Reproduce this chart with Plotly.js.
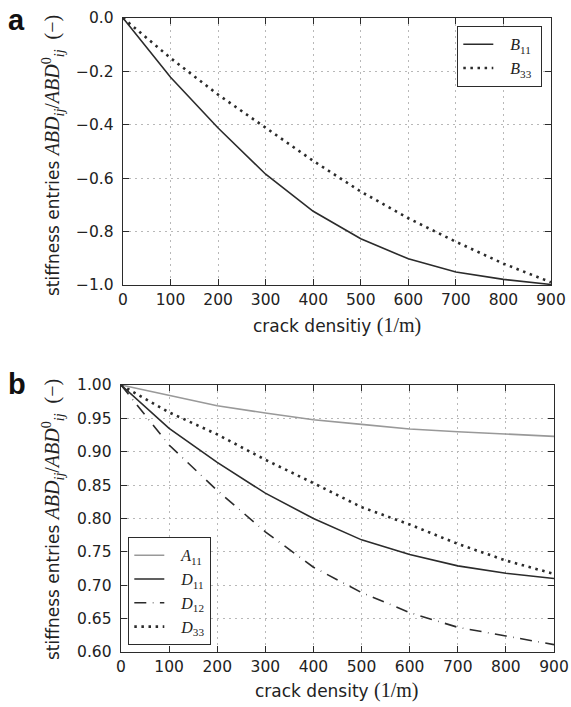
<!DOCTYPE html>
<html>
<head>
<meta charset="utf-8">
<script src="https://cdn.plot.ly/plotly-3.0.1.min.js"></script>
<style>html,body{margin:0;padding:0;background:#fff}#chart{width:571px;height:707px}</style>
</head>
<body>
<div id="chart"></div>
<script>
// ---- data ----
var crackDensity = [0, 100, 200, 300, 400, 500, 600, 700, 800, 900];
var B11 = [0, -0.222, -0.412, -0.585, -0.724, -0.827, -0.902, -0.951, -0.979, -0.998];
var B33 = [0, -0.150, -0.287, -0.410, -0.535, -0.650, -0.750, -0.838, -0.920, -0.990];
var A11 = [1, 0.984, 0.969, 0.958, 0.948, 0.941, 0.934, 0.930, 0.926, 0.923];
var D11 = [1, 0.935, 0.884, 0.838, 0.800, 0.768, 0.746, 0.729, 0.718, 0.710];
var D12 = [1, 0.910, 0.842, 0.780, 0.727, 0.689, 0.659, 0.637, 0.624, 0.611];
var D33 = [1, 0.959, 0.926, 0.888, 0.853, 0.817, 0.791, 0.762, 0.737, 0.717];
var xTicks = [0, 100, 200, 300, 400, 500, 600, 700, 800, 900];
var yTicksA = [0.0, -0.2, -0.4, -0.6, -0.8, -1.0];
var yTicksB = [1.00, 0.95, 0.90, 0.85, 0.80, 0.75, 0.70, 0.65, 0.60];

var W = 571, H = 707;
var dark = '#2b2b2b';
var serif = 'Liberation Serif';
function px(x){return x/W;}
function py(y){return 1 - y/H;}
var pad = '\u00a0\u00a0\u00a0';
var tail = '\u00a0';

var traces = [
  {x: crackDensity, y: B11, xaxis:'x', yaxis:'y', mode:'lines', name:pad + '<i>B</i><sub>11</sub>' + tail,
   line:{color:dark, width:1.6}, legend:'legend'},
  {x: crackDensity, y: B33, xaxis:'x', yaxis:'y', mode:'lines', name:pad + '<i>B</i><sub>33</sub>' + tail,
   line:{color:dark, width:2.6, dash:'2.5px,4.6px'}, legend:'legend'},
  {x: crackDensity, y: A11, xaxis:'x2', yaxis:'y2', mode:'lines', name:pad + '<i>A</i><sub>11</sub>',
   line:{color:'#999999', width:1.6}, legend:'legend2'},
  {x: crackDensity, y: D11, xaxis:'x2', yaxis:'y2', mode:'lines', name:pad + '<i>D</i><sub>11</sub>',
   line:{color:dark, width:1.6}, legend:'legend2'},
  {x: crackDensity, y: D12, xaxis:'x2', yaxis:'y2', mode:'lines', name:pad + '<i>D</i><sub>12</sub>',
   line:{color:dark, width:1.6, dash:'12px,6.5px,0.6px,6.5px'}, legend:'legend2'},
  {x: crackDensity, y: D33, xaxis:'x2', yaxis:'y2', mode:'lines', name:pad + '<i>D</i><sub>33</sub>',
   line:{color:dark, width:2.6, dash:'2.5px,4.6px'}, legend:'legend2'}
];

var tickFont = {family:'DejaVu Sans', size:15.5, color:'#222'};
function xAxis(domain, anchor){
  return {domain:domain, anchor:anchor, range:[0,900], tickvals:xTicks, ticktext:xTicks.map(String),
    ticks:'inside', ticklen:6, tickcolor:dark, tickwidth:1.2, mirror:'ticks',
    showline:true, linecolor:dark, linewidth:1.3, showgrid:true, gridcolor:'#b8b8b8', gridwidth:1,
    griddash:'2px,4px', zeroline:false, tickfont:tickFont, automargin:false, fixedrange:true};
}
function yAxis(domain, anchor, range, vals, fmt){
  return {domain:domain, anchor:anchor, range:range, tickvals:vals, ticktext:vals.map(function(v){return v.toFixed(fmt).replace('-', '\u2212');}),
    ticks:'inside', ticklen:6, tickcolor:dark, tickwidth:1.2, mirror:'ticks',
    showline:true, linecolor:dark, linewidth:1.3, showgrid:true, gridcolor:'#b8b8b8', gridwidth:1,
    griddash:'2px,4px', zeroline:false, tickfont:tickFont, automargin:false, fixedrange:true,
    ticklabelstandoff:5};
}

var mathY = "<span style=\"font-family:'Liberation Serif';font-size:20px\"><i>ABD</i><sub><i>ij</i></sub>/<i>ABD</i><sup>0</sup><sub><i>ij</i></sub>\u00a0\u00a0(\u2212)</span>";
var mathX = "<span style=\"font-family:'Liberation Serif';font-size:20px\">(1/m)</span>";
var titleFont = {family:'DejaVu Sans', size:17, color:'#222'};

var layout = {
  width: W, height: H,
  margin:{l:0, r:0, t:0, b:0},
  paper_bgcolor:'#fff', plot_bgcolor:'#fff',
  showlegend:true,
  xaxis: xAxis([px(123), px(551)], 'y'),
  yaxis: yAxis([py(285), py(18)], 'x', [-1, 0], yTicksA, 1),
  xaxis2: xAxis([px(121), px(554)], 'y2'),
  yaxis2: yAxis([py(652), py(385)], 'x2', [0.6, 1.0], yTicksB, 2),
  legend: {x:px(457), y:py(26), xanchor:'left', yanchor:'top', bgcolor:'#fff', bordercolor:dark, borderwidth:1.3,
    font:{family:serif, size:16, color:'#222'}, tracegroupgap:0, itemwidth:30},
  legend2: {x:px(128), y:py(537), xanchor:'left', yanchor:'top', bgcolor:'#fff', bordercolor:dark, borderwidth:1.3,
    font:{family:serif, size:16, color:'#222'}, tracegroupgap:0, itemwidth:30},
  annotations: [
    {text:'<b>a</b>', xref:'paper', yref:'paper', x:px(6), y:py(2), xanchor:'left', yanchor:'top', showarrow:false,
     font:{family:'Liberation Sans', size:29, color:'#111'}},
    {text:'<b>b</b>', xref:'paper', yref:'paper', x:px(6), y:py(366), xanchor:'left', yanchor:'top', showarrow:false,
     font:{family:'Liberation Sans', size:29, color:'#111'}},
    {text:'stiffness entries ' + mathY, xref:'paper', yref:'paper', x:px(53), y:py(156), xanchor:'center', yanchor:'middle',
     textangle:-90, showarrow:false, font:titleFont},
    {text:'stiffness entries ' + mathY, xref:'paper', yref:'paper', x:px(53), y:py(520), xanchor:'center', yanchor:'middle',
     textangle:-90, showarrow:false, font:titleFont},
    {text:'crack densitiy ' + mathX, xref:'paper', yref:'paper', x:px(337), y:py(326),
     xanchor:'center', yanchor:'middle', showarrow:false, font:titleFont},
    {text:'crack density ' + mathX, xref:'paper', yref:'paper', x:px(337), y:py(690),
     xanchor:'center', yanchor:'middle', showarrow:false, font:titleFont}
  ]
};

Plotly.newPlot('chart', traces, layout, {staticPlot:true, displayModeBar:false});
</script>
</body>
</html>
